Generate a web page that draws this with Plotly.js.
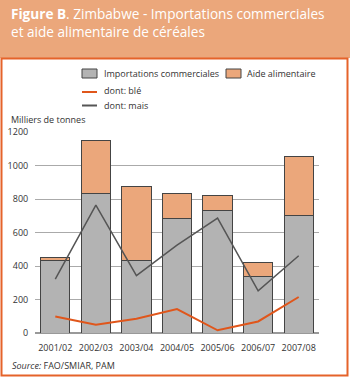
<!DOCTYPE html>
<html>
<head>
<meta charset="utf-8">
<script src="https://cdn.plot.ly/plotly-3.0.1.min.js"></script>
<style>
  html, body { margin: 0; padding: 0; background: #ffffff; }
  #chart { width: 350px; height: 378px; }
</style>
</head>
<body>
<div id="chart"></div>
<script>
// ---- Data ----
const categories = ["2001/02", "2002/03", "2003/04", "2004/05", "2005/06", "2006/07", "2007/08"];
const importsCommerciales = [435, 835, 435, 685, 730, 340, 700];
const aideAlimentaire = [15, 315, 440, 150, 90, 80, 355];
const dontBle = [99, 50, 85, 143, 16, 69, 215];
const dontMais = [322, 764, 342, 525, 686, 252, 461];
const yTicks = [0, 200, 400, 600, 800, 1000, 1200];

// ---- Layout geometry (pixel helpers) ----
const W = 350, H = 378;
const L = 35, R = 319, T = 132, B = 333;
const X = px => (px - L) / (R - L);
const Y = py => (B - py) / (B - T);

const FONT = "Open Sans, Noto Sans, sans-serif";
const GRAY = "#b3b3b3";
const ORANGE = "#eba77b";
const WHEAT = "#e0561b";
const MAIZE = "#555555";
const EDGE = "#444444";

const traces = [
  {type: "bar", name: "Importations commerciales", x: categories, y: importsCommerciales,
   marker: {color: GRAY, line: {color: EDGE, width: 1}}, hoverinfo: "y"},
  {type: "bar", name: "Aide alimentaire", x: categories, y: aideAlimentaire,
   marker: {color: ORANGE, line: {color: EDGE, width: 1}}, hoverinfo: "y"},
  {type: "scatter", mode: "lines", name: "dont: blé", x: categories, y: dontBle,
   line: {color: WHEAT, width: 2}},
  {type: "scatter", mode: "lines", name: "dont: mais", x: categories, y: dontMais,
   line: {color: MAIZE, width: 1.5}}
];

const shapes = [
  // header band
  {type: "rect", xref: "paper", yref: "paper", x0: X(0), x1: X(W), y0: Y(58), y1: Y(-2),
   fillcolor: "#eba77b", line: {width: 0}, layer: "below"},
  // frame
  {type: "rect", xref: "paper", yref: "paper", x0: X(1.5), x1: X(347.5), y0: Y(375.5), y1: Y(58.5),
   fillcolor: "rgba(0,0,0,0)", line: {color: "#e5632a", width: 2}, layer: "below"},
  // legend swatches
  {type: "rect", xref: "paper", yref: "paper", x0: X(82), x1: X(97), y0: Y(78), y1: Y(69),
   fillcolor: GRAY, line: {color: EDGE, width: 1}},
  {type: "rect", xref: "paper", yref: "paper", x0: X(226), x1: X(241), y0: Y(78), y1: Y(69),
   fillcolor: ORANGE, line: {color: EDGE, width: 1}},
  {type: "line", xref: "paper", yref: "paper", x0: X(82), x1: X(97), y0: Y(92), y1: Y(92),
   line: {color: WHEAT, width: 2}},
  {type: "line", xref: "paper", yref: "paper", x0: X(82), x1: X(97), y0: Y(105.5), y1: Y(105.5),
   line: {color: MAIZE, width: 2}}
];

const ann = (text, px, py, size, extra) => Object.assign({
  text: text, xref: "paper", yref: "paper", x: X(px), y: Y(py),
  xanchor: "left", yanchor: "middle", showarrow: false,
  font: {family: FONT, size: size, color: "#333333"}
}, extra || {});

const annotations = [
  ann("<b>Figure B</b>. Zimbabwe - Importations commerciales<br>et aide alimentaire de céréales", 9, 22.5, 13.6,
      {font: {family: FONT, size: 13.6, color: "#ffffff"}, align: "left"}),
  ann("Importations commerciales", 102, 73.5, 9),
  ann("Aide alimentaire", 245, 73.5, 9),
  ann("dont: blé", 102, 91, 9),
  ann("dont: mais", 102, 105, 9),
  ann("Milliers de tonnes", 9, 119, 9),
  ann("<i>Source:</i> FAO/SMIAR, PAM", 10, 365.5, 9)
];

const layout = {
  width: W, height: H,
  margin: {l: L, r: W - R, t: T, b: H - B, pad: 0},
  paper_bgcolor: "#ffffff", plot_bgcolor: "#ffffff",
  barmode: "stack", bargap: 0.28,
  showlegend: false,
  font: {family: FONT, size: 9, color: "#333333"},
  xaxis: {type: "category", showgrid: false, showline: false, zeroline: false,
          ticks: "outside", ticklen: 6, tickcolor: "rgba(0,0,0,0)",
          tickfont: {family: FONT, size: 9, color: "#333333"}, fixedrange: true},
  yaxis: {range: [0, 1200], tickvals: yTicks, ticktext: yTicks.map(String),
          showgrid: true, gridcolor: "#aaaaaa", gridwidth: 1,
          zeroline: true, zerolinecolor: "#999999", zerolinewidth: 1.5,
          showline: false, ticks: "outside", ticklen: 4, tickcolor: "rgba(0,0,0,0)",
          tickfont: {family: FONT, size: 9, color: "#333333"}, fixedrange: true},
  shapes: shapes,
  annotations: annotations
};

Plotly.newPlot("chart", traces, layout, {displayModeBar: false, staticPlot: true});
</script>
</body>
</html>
